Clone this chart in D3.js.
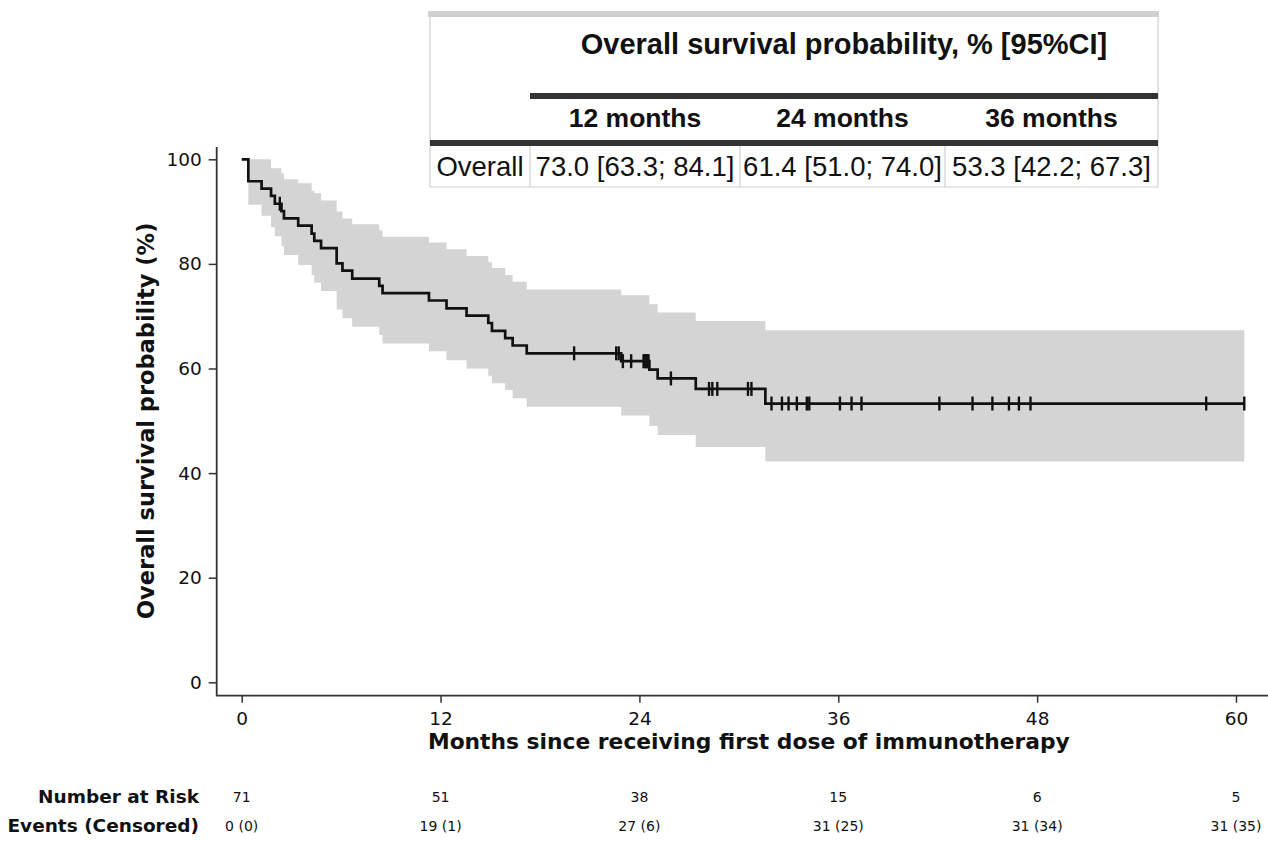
<!DOCTYPE html>
<html>
<head>
<meta charset="utf-8">
<script src="https://cdn.jsdelivr.net/npm/d3@7"></script>
<style>
body { margin: 0; background: #fff; }
svg { display: block; }
</style>
</head>
<body>
<svg id="chart" width="1268" height="841"></svg>
<script>
// Kaplan-Meier steps (months, %)
const stepTimes = [0, 0.4, 1.2, 1.77, 2.0, 2.4, 2.55, 3.41, 4.22, 4.38, 4.79, 5.73, 6.08, 6.67, 8.3, 8.5,
    11.3, 12.36, 13.57, 14.88, 15.1, 15.9, 16.35, 17.2, 22.9, 24.6, 25.1, 27.4, 31.6];
const survival = [100, 95.8, 94.4, 93.0, 91.5, 90.1, 88.7, 87.3, 85.8, 84.4, 83.0, 80.1, 78.7, 77.2, 75.8, 74.4,
    73.0, 71.5, 70.1, 68.7, 67.2, 65.8, 64.4, 62.9, 61.4, 59.8, 58.1, 56.1, 53.3];
const ciLower = [100, 91.3, 89.2, 87.0, 85.3, 83.4, 81.7, 79.8, 77.9, 76.4, 74.8, 71.3, 69.6, 68.0, 66.4, 64.8,
    63.3, 61.6, 60.0, 58.6, 57.2, 55.9, 54.3, 52.7, 51.0, 49.0, 47.3, 45.0, 42.2];
const ciUpper = [100, 100, 100, 98.3, 98.3, 97.3, 96.2, 95.4, 94.0, 93.5, 92.1, 90.0, 88.7, 87.6, 86.4, 85.2,
    84.1, 82.8, 81.5, 80.3, 79.2, 77.9, 76.6, 75.1, 74.0, 72.3, 70.7, 69.1, 67.3];
const censorTimes = [2.3, 20.06, 22.6, 22.75, 23.0, 23.5, 24.25, 24.3, 24.35, 24.4, 24.45, 24.5, 24.55, 25.9,
    28.2, 28.4, 28.7, 30.55, 30.76, 31.97, 32.6, 33.0, 33.5, 34.1, 34.25, 36.1, 36.8, 37.4, 42.1, 44.1, 45.3,
    46.3, 46.9, 47.6, 58.2, 60.5];
const lastTime = 60.5;

const xTicks = [0, 12, 24, 36, 48, 60];
const yTicks = [0, 20, 40, 60, 80, 100];
const atRisk = ['71', '51', '38', '15', '6', '5'];
const eventsCensored = ['0 (0)', '19 (1)', '27 (6)', '31 (25)', '31 (34)', '31 (35)'];

const tableTitle = 'Overall survival probability, % [95%CI]';
const tableCols = ['12 months', '24 months', '36 months'];
const tableRowLabel = 'Overall';
const tableValues = ['73.0 [63.3; 84.1]', '61.4 [51.0; 74.0]', '53.3 [42.2; 67.3]'];

const svg = d3.select('#chart');
const chartFont = 'DejaVu Sans, Verdana, sans-serif';
const tableFont = 'Liberation Sans, Arial, sans-serif';

const x = d3.scaleLinear().domain([0, 60]).range([241.7, 1236]);
const y = d3.scaleLinear().domain([0, 100]).range([682.3, 159.3]);
const axisX = 216.7, axisY = 695.7;

const steps = stepTimes.map((t, i) => ({ t, s: survival[i], lo: ciLower[i], hi: ciUpper[i] }));
steps.push({ ...steps[steps.length - 1], t: lastTime });

// confidence band
svg.append('path')
    .datum(steps)
    .attr('fill', '#d4d4d4')
    .attr('d', d3.area()
        .curve(d3.curveStepAfter)
        .x(d => x(d.t))
        .y0(d => y(d.lo))
        .y1(d => y(d.hi)));

// survival curve
svg.append('path')
    .datum(steps)
    .attr('fill', 'none')
    .attr('stroke', '#111')
    .attr('stroke-width', 2.7)
    .attr('d', d3.line().curve(d3.curveStepAfter).x(d => x(d.t)).y(d => y(d.s)));

const survAt = t => survival[d3.bisectRight(stepTimes, t) - 1];
svg.append('g').selectAll('line')
    .data(censorTimes)
    .enter().append('line')
    .attr('x1', d => x(d)).attr('x2', d => x(d))
    .attr('y1', d => y(survAt(d)) - 7)
    .attr('y2', d => y(survAt(d)) + 7)
    .attr('stroke', '#111')
    .attr('stroke-width', 2.4);

// axes
const gy = svg.append('g')
    .attr('transform', `translate(${axisX},0)`)
    .call(d3.axisLeft(y).tickValues(yTicks).tickSize(8).tickPadding(7));
const gx = svg.append('g')
    .attr('transform', `translate(0,${axisY})`)
    .call(d3.axisBottom(x).tickValues(xTicks).tickSize(7).tickPadding(9));
[gx, gy].forEach(g => {
    g.select('.domain').remove();
    g.selectAll('line').attr('stroke', '#333').attr('stroke-width', 1.5);
    g.selectAll('text').attr('font-family', chartFont).attr('font-size', 18.5).attr('fill', '#111');
});
svg.append('path')
    .attr('d', `M${axisX},147V${axisY}H1268`)
    .attr('fill', 'none')
    .attr('stroke', '#333')
    .attr('stroke-width', 1.8);

svg.append('text')
    .attr('transform', `translate(154,${(y(0) + y(100)) / 2}) rotate(-90)`)
    .attr('text-anchor', 'middle')
    .attr('font-family', chartFont)
    .attr('font-weight', 'bold')
    .attr('font-size', 22.5)
    .attr('fill', '#111')
    .text('Overall survival probability (%)');

svg.append('text')
    .attr('x', (x(0) + x(60)) / 2 + 10)
    .attr('y', 749)
    .attr('text-anchor', 'middle')
    .attr('font-family', chartFont)
    .attr('font-weight', 'bold')
    .attr('font-size', 21.8)
    .attr('fill', '#111')
    .text('Months since receiving first dose of immunotherapy');

// risk table
const riskRows = [
    { label: 'Number at Risk', values: atRisk, y: 803 },
    { label: 'Events (Censored)', values: eventsCensored, y: 832 }
];
riskRows.forEach(row => {
    svg.append('text')
        .attr('x', 199).attr('y', row.y)
        .attr('text-anchor', 'end')
        .attr('font-family', chartFont)
        .attr('font-weight', 'bold')
        .attr('font-size', 18.5)
        .attr('fill', '#111')
        .text(row.label);
    svg.append('g').selectAll('text')
        .data(row.values)
        .enter().append('text')
        .attr('x', (d, i) => x(xTicks[i]))
        .attr('y', row.y - 1)
        .attr('text-anchor', 'middle')
        .attr('font-family', chartFont)
        .attr('font-size', 14)
        .attr('fill', '#111')
        .text(d => d);
});

// summary table at the top
const colEdges = [430, 530, 740, 945, 1158];
const tbl = svg.append('g');
tbl.append('rect').attr('x', 428).attr('y', 11).attr('width', 731).attr('height', 6).attr('fill', '#d0d0d0');
tbl.append('path')
    .attr('d', `M430,17V187H1158V17`)
    .attr('fill', 'none').attr('stroke', '#d0d0d0').attr('stroke-width', 1.2);
tbl.selectAll('.div')
    .data(colEdges.slice(1, 4))
    .enter().append('line')
    .attr('x1', d => d).attr('x2', d => d)
    .attr('y1', 146).attr('y2', 187)
    .attr('stroke', '#d0d0d0').attr('stroke-width', 1.2);
tbl.append('rect').attr('x', 530).attr('y', 93).attr('width', 628).attr('height', 6).attr('fill', '#333');
tbl.append('rect').attr('x', 430).attr('y', 140).attr('width', 728).attr('height', 6).attr('fill', '#333');
tbl.append('text')
    .attr('x', (colEdges[1] + colEdges[4]) / 2).attr('y', 54)
    .attr('text-anchor', 'middle')
    .attr('font-family', tableFont).attr('font-weight', 'bold').attr('font-size', 29)
    .attr('fill', '#111')
    .text(tableTitle);
tbl.selectAll('.hdr')
    .data(tableCols)
    .enter().append('text')
    .attr('x', (d, i) => (colEdges[i + 1] + colEdges[i + 2]) / 2)
    .attr('y', 127)
    .attr('text-anchor', 'middle')
    .attr('font-family', tableFont).attr('font-weight', 'bold').attr('font-size', 26.5)
    .attr('fill', '#111')
    .text(d => d);
tbl.selectAll('.val')
    .data([tableRowLabel, ...tableValues])
    .enter().append('text')
    .attr('x', (d, i) => (colEdges[i] + colEdges[i + 1]) / 2)
    .attr('y', 176)
    .attr('text-anchor', 'middle')
    .attr('font-family', tableFont).attr('font-size', 27.5)
    .attr('fill', '#111')
    .text(d => d);
</script>
</body>
</html>
